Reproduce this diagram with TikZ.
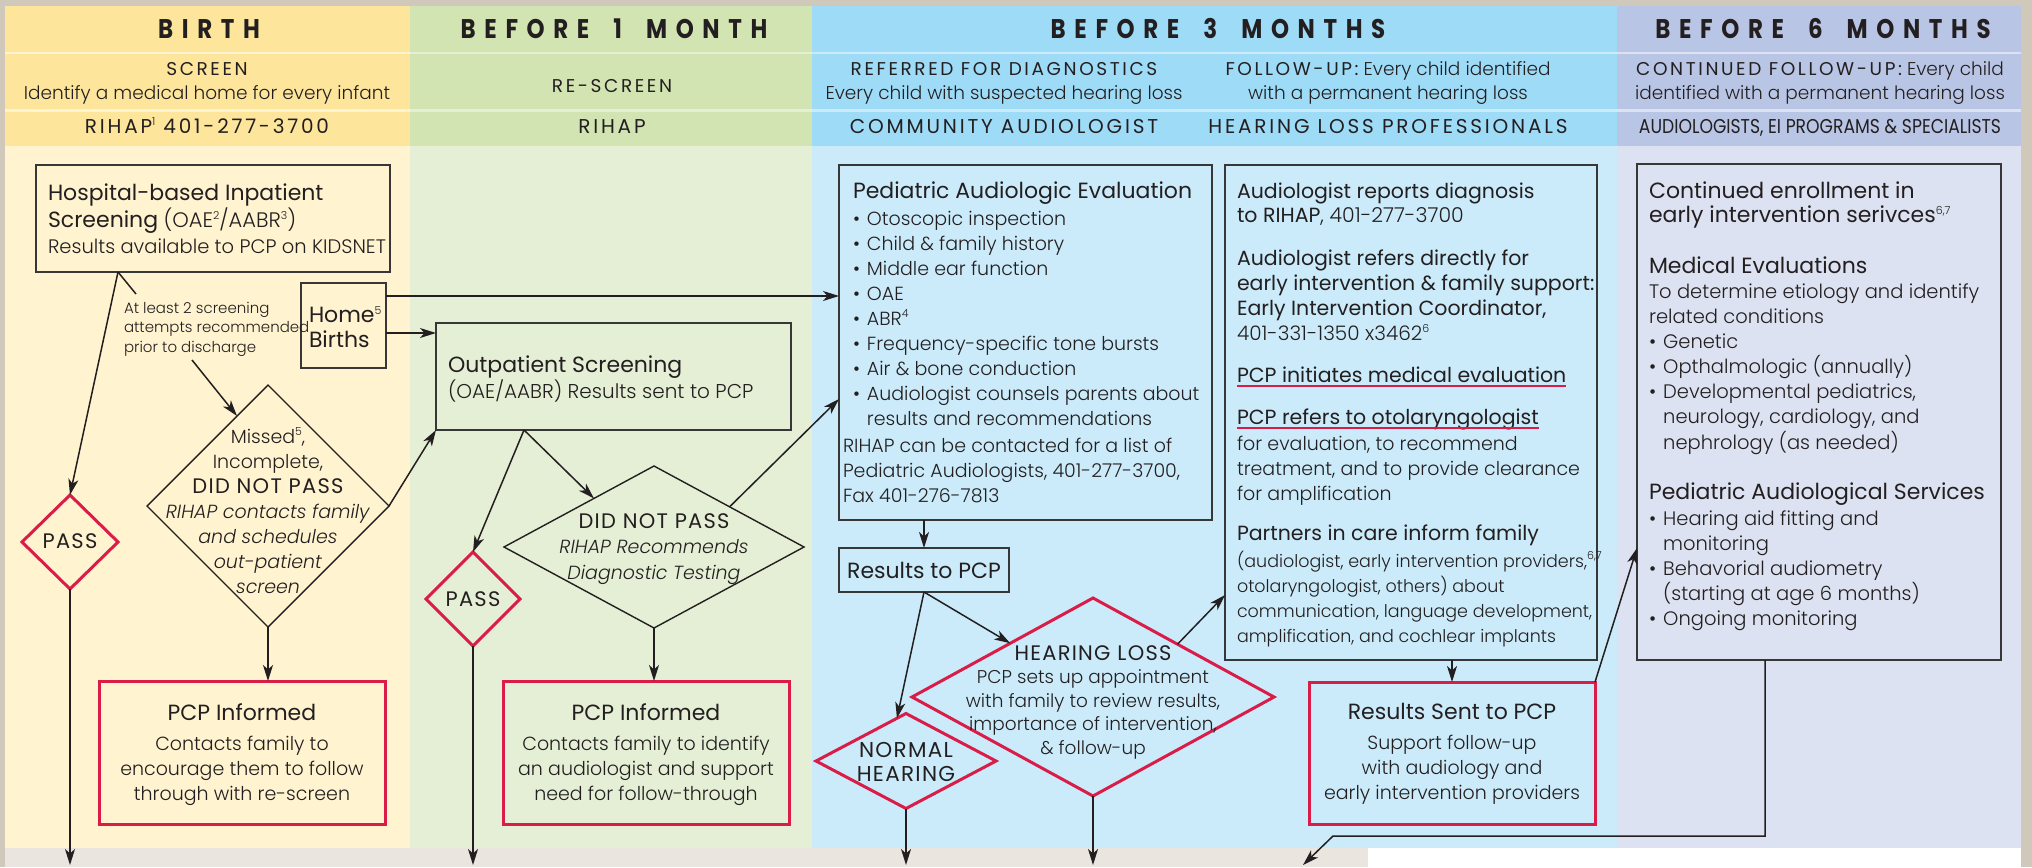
\documentclass[tikz,border=0pt]{standalone}
\usepackage{fontspec}
\setmainfont{Poppins Light}
\newfontfamily\fM{Poppins}
\newfontfamily\fCM[LetterSpace=6]{Poppins}
\newfontfamily\fC[LetterSpace=14]{Poppins}
\newfontfamily\fCn[FakeStretch=0.86]{Poppins}
\newfontfamily\fH[FakeStretch=0.85,LetterSpace=32]{Poppins}
\usetikzlibrary{shapes.geometric,arrows.meta,calc}
\definecolor{frame}{RGB}{209,200,188}
\definecolor{band}{RGB}{234,230,223}
\definecolor{yhead}{RGB}{253,229,155}
\definecolor{ybody}{RGB}{255,243,208}
\definecolor{ghead}{RGB}{210,228,177}
\definecolor{gbody}{RGB}{228,239,213}
\definecolor{bhead}{RGB}{157,219,247}
\definecolor{bbody}{RGB}{203,235,250}
\definecolor{phead}{RGB}{185,197,229}
\definecolor{pbody}{RGB}{220,226,241}
\definecolor{redc}{RGB}{218,28,72}
\definecolor{dark}{RGB}{35,31,32}
\definecolor{boxc}{RGB}{55,55,55}
\newcommand\fsz[2]{\fontsize{#1}{#2}\selectfont}
\newcommand\tbl[1]{\begin{tabular}[t]{@{}l@{}}#1\end{tabular}}
\newcommand\tbc[1]{\begin{tabular}[t]{@{}c@{}}#1\end{tabular}}
\newcommand\bul{\textbullet\hspace{3.5pt}}
\newcommand\nbul{\phantom{\textbullet}\hspace{3.5pt}}
\newcommand\sups[1]{\raisebox{3.8pt}{\rmfamily\fontsize{5.5}{6}\selectfont #1}}
\newcommand\wg{\hspace{12pt}}
\tikzset{
  ln/.style={draw=dark, line width=0.75pt},
  arr/.style={draw=dark, line width=0.75pt, -{Stealth[length=8pt,width=5pt,inset=2.2pt]}},
  bx/.style={rectangle, draw=boxc, line width=0.9pt, inner sep=0pt, outer sep=0pt},
  rbx/.style={rectangle, draw=redc, line width=1.5pt, inner sep=0pt, outer sep=0pt},
  dia/.style={diamond, draw=dark, line width=0.7pt, inner sep=0pt, outer sep=0pt},
  rdia/.style={diamond, draw=redc, line width=1.5pt, inner sep=0pt, outer sep=0pt},
  txt/.style={inner sep=0pt, outer sep=0pt, text=dark},
  hdr/.style={txt, anchor=base, font=\fH\bfseries\fsz{13.5}{16}},
  uline/.style={draw=redc, line width=0.8pt},
}
\begin{document}
\begin{tikzpicture}[x=0.5pt,y=-0.5pt]
\useasboundingbox (0,0) rectangle (2032,867);
% background
\fill[frame] (0,0) rectangle (2032,867);
\fill[ybody] (5,6) rectangle (410,848);
\fill[gbody] (410,6) rectangle (812,848);
\fill[bbody] (812,6) rectangle (1617,848);
\fill[pbody] (1617,6) rectangle (2021,848);
\fill[band] (5,848) rectangle (1368,867);
\fill[white] (1368,848) rectangle (2021,867);
\foreach \xa/\xb/\cc in {5/410/yhead, 410/812/ghead, 812/1617/bhead, 1617/2021/phead}{
  \fill[fill=\cc] (\xa,6) rectangle (\xb,52);
  \fill[fill=\cc] (\xa,54) rectangle (\xb,109);
  \fill[fill=\cc] (\xa,112) rectangle (\xb,146);
}
% header row 1
\node[hdr] (h1) at (209,39) {BIRTH};
\node[hdr] (h2) at (614,39) {BEFORE\wg1\wg MONTH};
\node[hdr] (h3) at (1218,39) {BEFORE\wg3\wg MONTHS};
\node[hdr] (h4) at (1823,39) {BEFORE\wg6\wg MONTHS};
% header row 2
\node[txt, anchor=base, font=\fsz{9.25}{12}] (s1) at (207,75) {\tbc{{\fC SCREEN}\\Identify a medical home for every infant}};
\node[txt, anchor=base, font=\fC\fsz{9.25}{12}] (s2) at (612,92) {RE-SCREEN};
\node[txt, anchor=base, font=\fsz{9.25}{12}] (s3) at (1004,75) {\tbc{{\fC REFERRED FOR DIAGNOSTICS}\\Every child with suspected hearing loss}};
\node[txt, anchor=base, font=\fsz{9.25}{12}] (s4) at (1388,75) {\tbc{{\fC FOLLOW-UP:} Every child identified\\with a permanent hearing loss}};
\node[txt, anchor=base, font=\fsz{9.25}{12}] (s5) at (1820,75) {\tbc{{\fC CONTINUED FOLLOW-UP:} Every child\\identified with a permanent hearing loss}};
% header row 3
\node[txt, anchor=base, font=\fC\fsz{10}{12}] (r1) at (207,133) {RIHAP\sups{1} 401-277-3700};
\node[txt, anchor=base, font=\fC\fsz{10}{12}] (r2) at (612,133) {RIHAP};
\node[txt, anchor=base, font=\fC\fsz{10}{12}] (r3) at (1004,133) {COMMUNITY AUDIOLOGIST};
\node[txt, anchor=base, font=\fC\fsz{10}{12}] (r4) at (1388,133) {HEARING LOSS PROFESSIONALS};
\node[txt, anchor=base, font=\fCn\fsz{10}{12}] (r5) at (1820,133) {AUDIOLOGISTS, EI PROGRAMS \& SPECIALISTS};
% boxes
\node[bx, minimum width=177pt, minimum height=53.5pt] (hosp) at (213,218.5) {};
\node[bx, minimum width=42.5pt, minimum height=42.5pt] (home) at (343.5,325.5) {};
\node[bx, minimum width=177.5pt, minimum height=53.5pt] (outp) at (613.5,376.5) {};
\node[rbx, minimum width=143pt, minimum height=71.5pt] (pcp1) at (242,752.5) {};
\node[rbx, minimum width=143pt, minimum height=71.5pt] (pcp2) at (646,752.5) {};
\node[bx, minimum width=186.5pt, minimum height=177.5pt] (ped) at (1025.5,342.5) {};
\node[bx, minimum width=85pt, minimum height=22pt] (res) at (924,570) {};
\node[bx, minimum width=186pt, minimum height=247.5pt] (aud) at (1411,412.5) {};
\node[rbx, minimum width=143pt, minimum height=71pt] (rsent) at (1452,753) {};
\node[bx, minimum width=182pt, minimum height=248pt] (cont) at (1819,412) {};
% diamonds
\node[rdia, minimum width=48pt, minimum height=47pt] (pass1) at (70,542) {};
\node[dia, minimum width=121pt, minimum height=121pt] (miss) at (268,506) {};
\node[rdia, minimum width=47pt, minimum height=47pt] (pass2) at (473,599) {};
\node[dia, minimum width=150pt, minimum height=81pt] (dnp) at (654,547) {};
\node[rdia, minimum width=90pt, minimum height=47.5pt] (norm) at (906,761) {};
\node[rdia, minimum width=181pt, minimum height=99pt] (hl) at (1093,697) {};
% texts in boxes
\node[txt, anchor=base west, font=\fsz{9.75}{13}] (hospt) at (48,200) {\tbl{{\fM\fsz{11}{13}Hospital-based Inpatient}\\{\fM\fsz{11}{13}Screening} {\fsz{10.5}{13}(OAE\sups{2}/AABR\sups{3})}\\Results available to PCP on KIDSNET}};
\node[txt, anchor=base west, font=\fsz{7.5}{9.75}] (atl) at (124,313) {\tbl{At least 2 screening\\attempts recommended\\prior to discharge}};
\node[txt, anchor=base west, font=\fM\fsz{11}{12.5}] (homet) at (309,322) {\tbl{Home\sups{5}\\Births}};
\node[txt, anchor=base west, font=\fsz{10}{12.5}] (outpt) at (448,372) {\tbl{{\fM\fsz{11}{12.5}Outpatient Screening}\\(OAE/AABR) Results sent to PCP}};
\node[txt, anchor=base, font=\fsz{9.5}{12.5}] (misst) at (268,443) {\tbc{Missed\sups{5},\\Incomplete,\\{\fCM\fsz{10.5}{12.5}DID NOT PASS}\\\textit{RIHAP contacts family}\\\textit{and schedules}\\\textit{out-patient}\\\textit{screen}}};
\node[txt, anchor=base, font=\fCM\fsz{10.5}{12}] (pass1t) at (70,548) {PASS};
\node[txt, anchor=base, font=\fCM\fsz{10.5}{12}] (pass2t) at (473,606) {PASS};
\node[txt, anchor=base, font=\fsz{9.5}{12.5}] (pcp1t) at (242,720) {\tbc{{\fM\fsz{11}{12.5}PCP Informed}\\[2.5pt]Contacts family to\\encourage them to follow\\through with re-screen}};
\node[txt, anchor=base, font=\fsz{9.5}{12.5}] (pcp2t) at (646,720) {\tbc{{\fM\fsz{11}{12.5}PCP Informed}\\[2.5pt]Contacts family to identify\\an audiologist and support\\need for follow-through}};
\node[txt, anchor=base, font=\fsz{9.5}{12.75}] (dnpt) at (654,528) {\tbc{{\fCM\fsz{10.5}{12.75}DID NOT PASS}\\\textit{RIHAP Recommends}\\\textit{Diagnostic Testing}}};
\node[txt, anchor=base west, font=\fsz{9.5}{12.5}] (pedt) at (853,198) {\tbl{{\fM\fsz{11}{12.5}Pediatric Audiologic Evaluation}\\[1pt]\bul Otoscopic inspection\\\bul Child \& family history\\\bul Middle ear function\\\bul OAE\\\bul ABR\sups{4}\\\bul Frequency-specific tone bursts\\\bul Air \& bone conduction\\\bul Audiologist counsels parents about\\\nbul results and recommendations}};
\node[txt, anchor=base west, font=\fsz{9.5}{12.5}] (pedr) at (843,452) {\tbl{RIHAP can be contacted for a list of\\Pediatric Audiologists, 401-277-3700,\\Fax 401-276-7813}};
\node[txt, anchor=base, font=\fM\fsz{11}{12}] (rest) at (924,578) {Results to PCP};
\node[txt, anchor=base, font=\fCM\fsz{10.75}{12}] (normt) at (906,757) {\tbc{NORMAL\\HEARING}};
\node[txt, anchor=base, font=\fsz{9.25}{11.75}] (hlt) at (1093,660) {\tbc{{\fCM\fsz{10.5}{11.75}HEARING LOSS}\\PCP sets up appointment\\with family to review results,\\importance of intervention,\\\& follow-up}};
\node[txt, anchor=base west, font=\fM\fsz{10.25}{12}] (aud1) at (1237,198) {\tbl{Audiologist reports diagnosis\\to RIHAP{\rmfamily, 401-277-3700}}};
\node[txt, anchor=base west, font=\fM\fsz{10.25}{12.5}] (aud2) at (1237,265) {\tbl{Audiologist refers directly for\\early intervention \& family support:\\Early Intervention Coordinator,\\{\rmfamily\fsz{10}{12.5}401-331-1350 x3462\sups{6}}}};
\node[txt, anchor=base west, font=\fM\fsz{10.25}{12.5}] (aud3) at (1237,382) {PCP initiates medical evaluation};
\node[txt, anchor=base west, font=\fM\fsz{10.25}{12.5}] (aud4) at (1237,424) {PCP refers to otolaryngologist};
\node[txt, anchor=base west, font=\fsz{9.5}{12.5}] (aud4b) at (1237,450) {\tbl{for evaluation, to recommend\\treatment, and to provide clearance\\for amplification}};
\node[txt, anchor=base west, font=\fM\fsz{10.25}{12.5}] (aud5) at (1237,540) {Partners in care inform family};
\node[txt, anchor=base west, font=\fsz{8.75}{12.5}] (aud5b) at (1237,567) {\tbl{(audiologist, early intervention providers,\sups{6,7}\\otolaryngologist, others) about\\communication, language development,\\amplification, and cochlear implants}};
\draw[uline] ([yshift=-2pt]aud3.base west) -- ([yshift=-2pt]aud3.base east);
\draw[uline] ([yshift=-2pt]aud4.base west) -- ([yshift=-2pt]aud4.base east);
\node[txt, anchor=base, font=\fsz{9.5}{12.5}] (rsentt) at (1452,719) {\tbc{{\fM\fsz{11}{12.5}Results Sent to PCP}\\[2.5pt]Support follow-up\\with audiology and\\early intervention providers}};
\node[txt, anchor=base west, font=\fM\fsz{11}{12}] (c1) at (1649,198) {\tbl{Continued enrollment in\\early intervention serivces\sups{6,7}}};
\node[txt, anchor=base west, font=\fsz{9.75}{12.5}] (c2) at (1649,273) {\tbl{{\fM\fsz{11}{12.5}Medical Evaluations}\\To determine etiology and identify\\related conditions\\\bul Genetic\\\bul Opthalmologic (annually)\\\bul Developmental pediatrics,\\\nbul neurology, cardiology, and\\\nbul nephrology (as needed)}};
\node[txt, anchor=base west, font=\fsz{9.75}{12.5}] (c3) at (1649,499) {\tbl{{\fM\fsz{11}{12.5}Pediatric Audiological Services}\\[0.5pt]\bul Hearing aid fitting and\\\nbul monitoring\\\bul Behavorial audiometry\\\nbul (starting at age 6 months)\\\bul Ongoing monitoring}};
% connectors
\coordinate (bot) at (0,865);
\coordinate (hS) at ($(hosp.south west)+(82,0)$);
\coordinate (lblA) at (136,294);
\coordinate (lblB) at (192,360);
\draw[ln] (hS) -- (lblA);
\draw[arr] (lblB) -- (miss.109);
\draw[arr] (hS) -- (pass1.north);
\draw[arr] (pass1.south) -- (pass1.south |- bot);
\draw[arr] (miss.east) -- (outp.south west);
\draw[arr] (miss.south) -- (miss.south |- pcp1.north);
\coordinate (hA) at ($(home.north east)+(0,13)$);
\coordinate (hB) at ($(home.north east)+(0,50)$);
\draw[arr] (hA) -- (hA -| ped.west);
\draw[arr] (hB) -- (hB -| outp.west);
\coordinate (oS) at ($(outp.south west)+(88,0)$);
\draw[arr] (oS) -- (pass2.north);
\draw[arr] (oS) -- (dnp.141);
\draw[arr] (dnp.28) -- ($(ped.south west)+(0,-121)$);
\draw[arr] (dnp.south) -- (dnp.south |- pcp2.north);
\draw[arr] (pass2.south) -- (pass2.south |- bot);
\draw[arr] (res.north |- ped.south) -- (res.north);
\draw[arr] (res.south) -- (norm.102);
\draw[arr] (res.south) -- (hl.147);
\draw[arr] (hl.32) -- ($(aud.south west)+(0,-65)$);
\draw[arr] (norm.south) -- (norm.south |- bot);
\draw[arr] (hl.south) -- (hl.south |- bot);
\draw[arr] (rsent.north |- aud.south) -- (rsent.north);
\draw[arr] (rsent.north east) -- ($(cont.south west)+(0,-112)$);
\coordinate (cS) at ($(cont.south west)+(128,0)$);
\coordinate (bend) at (1333,836);
\coordinate (endC) at (1303,865);
\draw[arr] (cS) |- (bend) -- (endC);
\end{tikzpicture}
\end{document}
